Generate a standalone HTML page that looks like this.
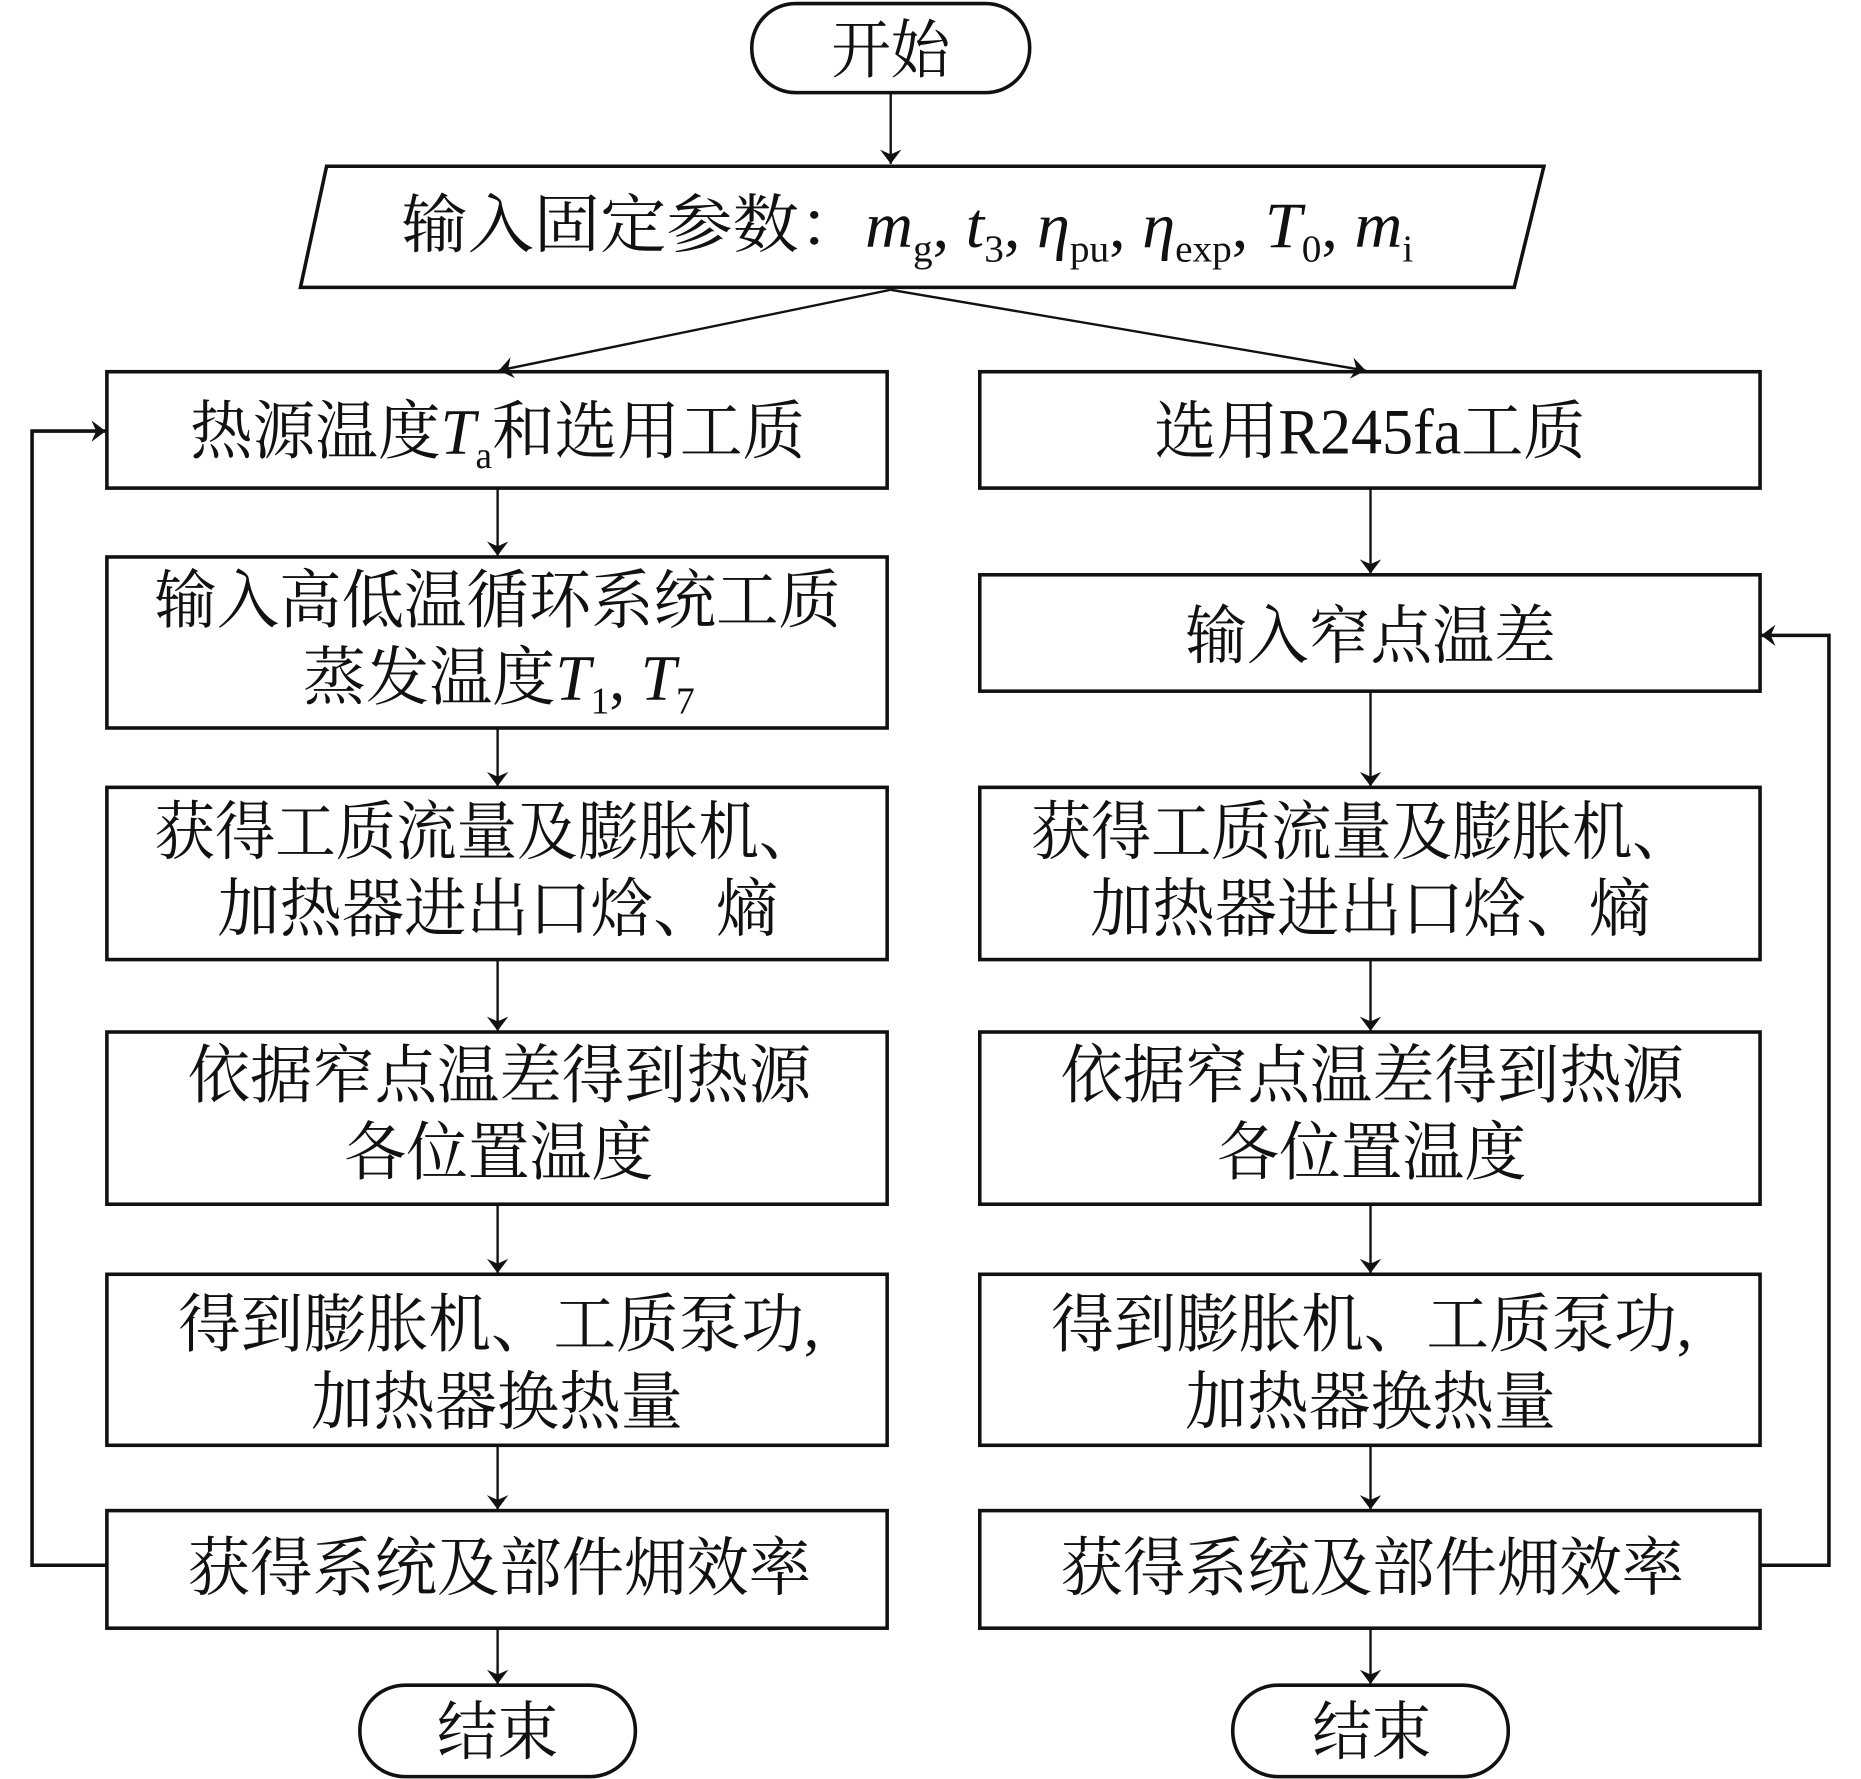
<!DOCTYPE html>
<html><head><meta charset="utf-8">
<style>
html,body{margin:0;padding:0;background:#fff;}
svg{display:block;}
text{font-family:"Liberation Serif","Noto Serif CJK SC",serif;font-size:54px;fill:#111;}
.i{font-style:italic;}
.s{font-size:32px;}
</style></head><body>
<svg width="1861" height="1779" viewBox="0 0 1567 1498" preserveAspectRatio="none" xmlns="http://www.w3.org/2000/svg">
<defs>
<marker id="a" markerWidth="12" markerHeight="24" refX="12" refY="12" orient="auto" markerUnits="userSpaceOnUse">
<path d="M0,3 L12,12 L0,21 L4,12 Z" fill="#111"/>
</marker>
</defs>
<g fill="none" stroke="#111" stroke-width="3">
<rect x="633" y="3" width="234" height="75" rx="37"/>
<polygon points="275,140 1300,140 1275,242 253,242"/>
<rect x="90" y="313" width="657" height="98"/>
<rect x="90" y="469" width="657" height="144"/>
<rect x="90" y="663" width="657" height="145"/>
<rect x="90" y="869" width="657" height="145"/>
<rect x="90" y="1073" width="657" height="144"/>
<rect x="90" y="1272" width="657" height="99"/>
<rect x="825" y="313" width="657" height="98"/>
<rect x="825" y="484" width="657" height="98"/>
<rect x="825" y="663" width="657" height="145"/>
<rect x="825" y="869" width="657" height="145"/>
<rect x="825" y="1073" width="657" height="144"/>
<rect x="825" y="1272" width="657" height="99"/>
<rect x="303" y="1419" width="232" height="77" rx="38"/>
<rect x="1038" y="1419" width="232" height="77" rx="38"/>
</g>
<g fill="none" stroke="#111" stroke-width="2" marker-end="url(#a)">
<line x1="750" y1="78" x2="750" y2="138"/>
<line x1="750" y1="244" x2="420" y2="312"/>
<line x1="750" y1="244" x2="1150" y2="312"/>
<line x1="419" y1="411" x2="419" y2="468"/>
<line x1="419" y1="613" x2="419" y2="662"/>
<line x1="419" y1="808" x2="419" y2="868"/>
<line x1="419" y1="1014" x2="419" y2="1072"/>
<line x1="419" y1="1217" x2="419" y2="1271"/>
<line x1="419" y1="1371" x2="419" y2="1418"/>
<line x1="1154" y1="411" x2="1154" y2="483"/>
<line x1="1154" y1="582" x2="1154" y2="662"/>
<line x1="1154" y1="808" x2="1154" y2="868"/>
<line x1="1154" y1="1014" x2="1154" y2="1072"/>
<line x1="1154" y1="1217" x2="1154" y2="1271"/>
<line x1="1154" y1="1371" x2="1154" y2="1418"/>
<polyline points="90,1318 27,1318 27,363 89,363" stroke-width="3"/>
<polyline points="1482,1318 1540,1318 1540,535 1483,535" stroke-width="3"/>
</g>
<text x="700" y="61" textLength="100" lengthAdjust="spacingAndGlyphs">开始</text>
<text x="338" y="208" textLength="852" lengthAdjust="spacingAndGlyphs">输入固定参数：<tspan class="i">m</tspan><tspan class="s" dy="12">g</tspan><tspan dy="-12">, </tspan><tspan class="i">t</tspan><tspan class="s" dy="12">3</tspan><tspan dy="-12">, </tspan><tspan class="i">η</tspan><tspan class="s" dy="12">pu</tspan><tspan dy="-12">, </tspan><tspan class="i">η</tspan><tspan class="s" dy="12">exp</tspan><tspan dy="-12">, </tspan><tspan class="i">T</tspan><tspan class="s" dy="12">0</tspan><tspan dy="-12">, </tspan><tspan class="i">m</tspan><tspan class="s" dy="12">i</tspan></text>
<text x="160" y="382" textLength="518" lengthAdjust="spacingAndGlyphs">热源温度<tspan class="i">T</tspan><tspan class="s" dy="12">a</tspan><tspan dy="-12">和选用工质</tspan></text>
<text x="972" y="382" textLength="363" lengthAdjust="spacingAndGlyphs">选用R245fa工质</text>
<text x="130" y="524" textLength="578" lengthAdjust="spacingAndGlyphs">输入高低温循环系统工质</text>
<text x="255" y="589" textLength="330" lengthAdjust="spacingAndGlyphs">蒸发温度<tspan class="i">T</tspan><tspan class="s" dy="12">1</tspan><tspan dy="-12">, </tspan><tspan class="i">T</tspan><tspan class="s" dy="12">7</tspan></text>
<text x="998" y="554" textLength="312" lengthAdjust="spacingAndGlyphs">输入窄点温差</text>
<text x="130" y="719" textLength="560" lengthAdjust="spacingAndGlyphs">获得工质流量及膨胀机、</text>
<text x="183" y="784" textLength="472" lengthAdjust="spacingAndGlyphs">加热器进出口焓、熵</text>
<text x="868" y="719" textLength="557" lengthAdjust="spacingAndGlyphs">获得工质流量及膨胀机、</text>
<text x="918" y="784" textLength="472" lengthAdjust="spacingAndGlyphs">加热器进出口焓、熵</text>
<text x="158" y="924" textLength="525" lengthAdjust="spacingAndGlyphs">依据窄点温差得到热源</text>
<text x="290" y="989" textLength="260" lengthAdjust="spacingAndGlyphs">各位置温度</text>
<text x="893" y="924" textLength="525" lengthAdjust="spacingAndGlyphs">依据窄点温差得到热源</text>
<text x="1025" y="989" textLength="260" lengthAdjust="spacingAndGlyphs">各位置温度</text>
<text x="150" y="1134" textLength="540" lengthAdjust="spacingAndGlyphs">得到膨胀机、工质泵功,</text>
<text x="262" y="1199" textLength="313" lengthAdjust="spacingAndGlyphs">加热器换热量</text>
<text x="885" y="1134" textLength="540" lengthAdjust="spacingAndGlyphs">得到膨胀机、工质泵功,</text>
<text x="998" y="1199" textLength="312" lengthAdjust="spacingAndGlyphs">加热器换热量</text>
<text x="158" y="1339" textLength="525" lengthAdjust="spacingAndGlyphs">获得系统及部件㶲效率</text>
<text x="893" y="1339" textLength="525" lengthAdjust="spacingAndGlyphs">获得系统及部件㶲效率</text>
<text x="368" y="1477" textLength="102" lengthAdjust="spacingAndGlyphs">结束</text>
<text x="1105" y="1477" textLength="100" lengthAdjust="spacingAndGlyphs">结束</text>
</svg>
</body></html>
